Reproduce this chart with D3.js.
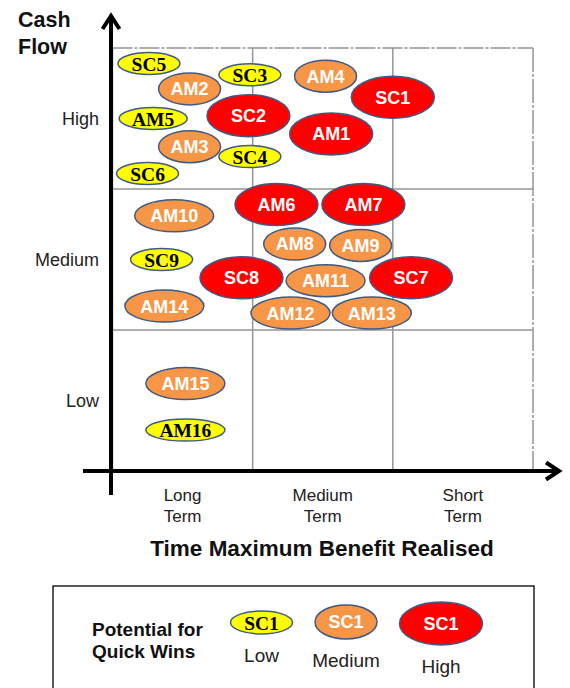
<!DOCTYPE html>
<html>
<head>
<meta charset="utf-8">
<script src="https://cdn.jsdelivr.net/npm/d3@7"></script>
<style>
  html, body { margin: 0; padding: 0; background: #fff; }
  svg { display: block; font-family: "Liberation Sans", Arial, sans-serif; }
</style>
</head>
<body>
<svg id="chart" width="570" height="688"></svg>
<script>
// Axis categories
const timeCategories = [["Long", "Term"], ["Medium", "Term"], ["Short", "Term"]];
const cashCategories = ["Low", "Medium", "High"];
const potentialLevels = ["Low", "Medium", "High"];

// Projects: position in the (time, cash flow) grid, each cell spanning one unit
const projects = ["SC5", "AM2", "SC3", "AM4", "SC1", "AM5", "SC2", "AM1", "AM3", "SC4", "SC6",
                  "AM6", "AM7", "AM10", "AM8", "AM9", "SC9", "SC8", "AM11", "SC7", "AM14",
                  "AM12", "AM13", "AM15", "AM16"];
const timeValues = [0.26, 0.55, 0.98, 1.52, 2.00, 0.29, 0.97, 1.56, 0.55, 0.98, 0.25,
                    1.17, 1.79, 0.44, 1.30, 1.77, 0.35, 0.92, 1.52, 2.13, 0.37,
                    1.27, 1.85, 0.52, 0.52];
const cashValues = [2.89, 2.71, 2.81, 2.80, 2.65, 2.50, 2.52, 2.39, 2.30, 2.23, 2.11,
                    1.89, 1.89, 1.81, 1.61, 1.60, 1.50, 1.37, 1.35, 1.37, 1.17,
                    1.12, 1.12, 0.62, 0.29];
const potentials = ["Low", "Medium", "Low", "Medium", "High", "Low", "High", "High", "Medium", "Low", "Low",
                    "High", "High", "Medium", "Medium", "Medium", "Low", "High", "Medium", "High", "Medium",
                    "Medium", "Medium", "Medium", "Low"];

const svg = d3.select("#chart");

const x = d3.scaleLinear().domain([0, 3]).range([112.5, 533]);
const y = d3.scaleLinear().domain([0, 3]).range([471, 48]);

const fill = d3.scaleOrdinal().domain(potentialLevels).range(["#FFFF00", "#F79646", "#FF0000"]);
const textFill = d3.scaleOrdinal().domain(potentialLevels).range(["#000", "#fff", "#fff"]);
const ryOf = d3.scaleOrdinal().domain(potentialLevels).range([11, 16, 21]);
function rxOf(level, label) {
  if (level === "High") return 41.5;
  if (label === "AM5") return 34;
  return label.length > 3 ? 39.5 : 31;
}

// Grid
const grid = svg.append("g").attr("stroke", "#949494").attr("stroke-width", 1.5).attr("fill", "none");
[1, 2].forEach(v => {
  grid.append("line").attr("x1", x(v)).attr("x2", x(v)).attr("y1", y(3)).attr("y2", y(0));
  grid.append("line").attr("x1", x(0)).attr("x2", x(3)).attr("y1", y(v)).attr("y2", y(v));
});
grid.append("line").attr("x1", x(0)).attr("x2", x(0)).attr("y1", y(3)).attr("y2", y(0));
grid.append("line").attr("x1", x(0)).attr("x2", x(3)).attr("y1", y(3)).attr("y2", y(3))
  .attr("stroke-dasharray", "20,2,3,2");
grid.append("line").attr("x1", x(3)).attr("x2", x(3)).attr("y1", y(3)).attr("y2", y(0))
  .attr("stroke-dasharray", "24,2,3,2");

// Axes with open arrow heads
const axes = svg.append("g").attr("stroke", "#000").attr("stroke-width", 4)
  .attr("fill", "none").attr("stroke-linecap", "butt");
const ax0 = x(0) - 1.5;
axes.append("line").attr("x1", ax0).attr("x2", ax0).attr("y1", 495).attr("y2", 16);
axes.append("path").attr("d", `M${ax0 - 8.5},29 L${ax0},16 L${ax0 + 8.5},29`).attr("stroke-linejoin", "miter");
axes.append("line").attr("x1", 83).attr("x2", 559).attr("y1", y(0)).attr("y2", y(0));
axes.append("path").attr("d", `M546,${y(0) - 8.5} L559,${y(0)} L546,${y(0) + 8.5}`).attr("stroke-linejoin", "miter");

// Axis titles
const cashTitle = svg.append("text").attr("x", 18).attr("y", 27)
  .attr("font-size", 21.5).attr("font-weight", "bold").attr("fill", "#111");
cashTitle.append("tspan").attr("x", 18).text("Cash");
cashTitle.append("tspan").attr("x", 18).attr("dy", 27).text("Flow");

svg.append("text").attr("x", 322).attr("y", 556).attr("text-anchor", "middle")
  .attr("font-size", 22.5).attr("font-weight", "bold").attr("fill", "#111")
  .text("Time Maximum Benefit Realised");

// Category labels
svg.append("g").selectAll("text").data(cashCategories).join("text")
  .attr("x", 99).attr("y", (d, i) => y(i + 0.5)).attr("dy", "0.36em")
  .attr("text-anchor", "end").attr("font-size", 18).attr("fill", "#222")
  .text(d => d);

const tl = svg.append("g").selectAll("text").data(timeCategories).join("text")
  .attr("x", (d, i) => x(i + 0.5)).attr("y", 501)
  .attr("text-anchor", "middle").attr("font-size", 17).attr("fill", "#222");
tl.selectAll("tspan").data(d => d).join("tspan")
  .attr("x", function () { return this.parentNode.getAttribute("x"); })
  .attr("dy", (d, i) => i === 0 ? 0 : 21)
  .text(d => d);

// Bubble label font per level: serif on yellow, sans on the others
function styleLabel(sel, level) {
  if (level === "Low") {
    sel.style("font-family", "'Liberation Serif', 'Times New Roman', serif").attr("font-size", 19.5);
  } else {
    sel.attr("font-size", 18);
  }
  sel.attr("font-weight", "bold");
}

// Project bubbles
const data = projects.map((p, i) => ({ name: p, t: timeValues[i], c: cashValues[i], level: potentials[i] }));
const bubbles = svg.append("g").selectAll("g").data(data).join("g")
  .attr("transform", d => `translate(${x(d.t)},${y(d.c)})`);
bubbles.append("ellipse")
  .attr("rx", d => rxOf(d.level, d.name)).attr("ry", d => ryOf(d.level))
  .attr("fill", d => fill(d.level)).attr("stroke", "#3e5a85").attr("stroke-width", 1.5);
bubbles.append("text").attr("text-anchor", "middle").attr("dy", "0.36em")
  .attr("fill", d => textFill(d.level))
  .each(function (d) { styleLabel(d3.select(this), d.level); })
  .text(d => d.name);

// Legend
svg.append("rect").attr("x", 53).attr("y", 586).attr("width", 481).attr("height", 130)
  .attr("fill", "none").attr("stroke", "#222").attr("stroke-width", 1.5);
const lt = svg.append("text").attr("font-size", 19).attr("font-weight", "bold").attr("fill", "#111");
lt.append("tspan").attr("x", 92).attr("y", 636).text("Potential for");
lt.append("tspan").attr("x", 92).attr("y", 658).text("Quick Wins");

const legendX = [261.5, 346, 441];
const legendCy = [622.5, 622, 623.5];
const legendTextY = [662, 667, 673];
const legendRy = [11.5, 17, 21.5];
const lg = svg.append("g").selectAll("g").data(potentialLevels).join("g")
  .attr("transform", (d, i) => `translate(${legendX[i]},${legendCy[i]})`);
lg.append("ellipse")
  .attr("rx", d => rxOf(d, "SC1")).attr("ry", (d, i) => legendRy[i])
  .attr("fill", d => fill(d)).attr("stroke", "#3e5a85").attr("stroke-width", 1.5);
lg.append("text").attr("text-anchor", "middle").attr("dy", "0.36em")
  .attr("fill", d => textFill(d))
  .each(function (d) { styleLabel(d3.select(this), d); })
  .text("SC1");
lg.append("text").attr("text-anchor", "middle")
  .attr("y", (d, i) => legendTextY[i] - legendCy[i])
  .attr("font-size", 19).attr("fill", "#222")
  .text(d => d);
</script>
</body>
</html>
